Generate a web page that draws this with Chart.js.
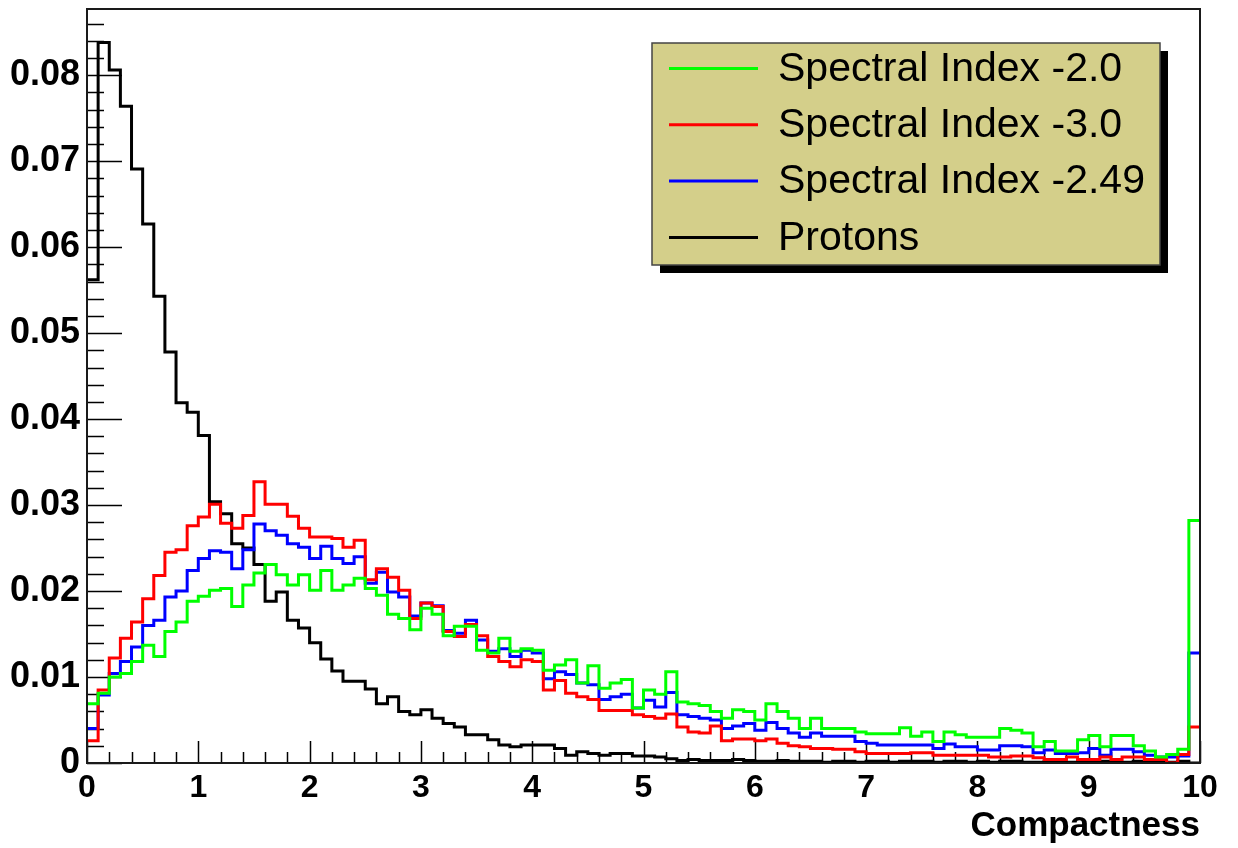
<!DOCTYPE html>
<html>
<head>
<meta charset="utf-8">
<title>Compactness</title>
<script src="https://cdn.jsdelivr.net/npm/chart.js@4.4.1/dist/chart.umd.min.js"></script>
<style>
    html, body { margin: 0; padding: 0; background: #fff; }
</style>
</head>
<body>
<canvas id="chart" width="1238" height="848"></canvas>
<script>
// 100 bins of width 0.1 between 0 and 10 (low edges)
const binLowEdges = Array.from({ length: 100 }, (_, i) => i / 10);
const binUpperEnd = 10;

const xTickValues = [0, 1, 2, 3, 4, 5, 6, 7, 8, 9, 10];
const yTickValues = [0, 0.01, 0.02, 0.03, 0.04, 0.05, 0.06, 0.07, 0.08];

const seriesLabels = ['Spectral Index -2.0', 'Spectral Index -3.0', 'Spectral Index -2.49', 'Protons'];

const index20 = [
    0.0069, 0.0081, 0.0100, 0.0104, 0.0118, 0.0137, 0.0124, 0.0153, 0.0164, 0.0188,
    0.0194, 0.0201, 0.0203, 0.0182, 0.0207, 0.0221, 0.0231, 0.0219, 0.0207, 0.0219,
    0.0201, 0.0224, 0.0201, 0.0207, 0.0215, 0.0203, 0.0195, 0.0173, 0.0168, 0.0155,
    0.0180, 0.0173, 0.0148, 0.0159, 0.0159, 0.0131, 0.0128, 0.0145, 0.0130, 0.0133,
    0.0131, 0.0108, 0.0114, 0.0120, 0.0093, 0.0113, 0.0087, 0.0093, 0.0097, 0.0064,
    0.0085, 0.0080, 0.0106, 0.0071, 0.0069, 0.0067, 0.0060, 0.0052, 0.0062, 0.0060,
    0.0050, 0.0069, 0.0060, 0.0052, 0.0040, 0.0052, 0.0040, 0.0040, 0.0040, 0.0036,
    0.0034, 0.0034, 0.0034, 0.0041, 0.0031, 0.0036, 0.0025, 0.0036, 0.0033, 0.0030,
    0.0030, 0.0030, 0.0040, 0.0038, 0.0035, 0.0019, 0.0025, 0.0014, 0.0014, 0.0027,
    0.0032, 0.0019, 0.0032, 0.0032, 0.0020, 0.0014, 0.0007, 0.0010, 0.0016, 0.0282
];

const index30 = [
    0.0026, 0.0085, 0.0122, 0.0145, 0.0164, 0.0191, 0.0218, 0.0245, 0.0248, 0.0276,
    0.0286, 0.0301, 0.0279, 0.0273, 0.0288, 0.0327, 0.0301, 0.0301, 0.0287, 0.0273,
    0.0263, 0.0263, 0.0261, 0.0251, 0.0259, 0.0213, 0.0226, 0.0216, 0.0201, 0.0168,
    0.0186, 0.0182, 0.0153, 0.0147, 0.0161, 0.0148, 0.0124, 0.0118, 0.0112, 0.0120,
    0.0118, 0.0085, 0.0096, 0.0081, 0.0077, 0.0074, 0.0061, 0.0061, 0.0061, 0.0056,
    0.0054, 0.0052, 0.0057, 0.0042, 0.0036, 0.0035, 0.0043, 0.0026, 0.0028, 0.0028,
    0.0026, 0.0028, 0.0023, 0.0020, 0.0019, 0.0017, 0.0017, 0.0016, 0.0016, 0.0013,
    0.0011, 0.0011, 0.0011, 0.0011, 0.0012, 0.0012, 0.0009, 0.0009, 0.0009, 0.0009,
    0.0009, 0.0007, 0.0007, 0.0008, 0.0008, 0.0006, 0.0004, 0.0004, 0.0007, 0.0004,
    0.0004, 0.0007, 0.0004, 0.0007, 0.0007, 0.0004, 0.0004, 0.0000, 0.0010, 0.0042
];

const index249 = [
    0.0040, 0.0079, 0.0104, 0.0118, 0.0135, 0.0160, 0.0166, 0.0193, 0.0200, 0.0224,
    0.0238, 0.0247, 0.0245, 0.0226, 0.0248, 0.0278, 0.0270, 0.0265, 0.0255, 0.0251,
    0.0238, 0.0252, 0.0238, 0.0232, 0.0240, 0.0209, 0.0222, 0.0199, 0.0193, 0.0171,
    0.0186, 0.0183, 0.0154, 0.0151, 0.0166, 0.0143, 0.0130, 0.0133, 0.0124, 0.0131,
    0.0128, 0.0098, 0.0106, 0.0103, 0.0093, 0.0091, 0.0074, 0.0077, 0.0080, 0.0064,
    0.0073, 0.0065, 0.0082, 0.0056, 0.0054, 0.0052, 0.0050, 0.0040, 0.0043, 0.0046,
    0.0038, 0.0047, 0.0040, 0.0035, 0.0030, 0.0035, 0.0031, 0.0031, 0.0031, 0.0025,
    0.0023, 0.0021, 0.0021, 0.0021, 0.0021, 0.0021, 0.0017, 0.0022, 0.0019, 0.0019,
    0.0015, 0.0015, 0.0020, 0.0020, 0.0019, 0.0012, 0.0015, 0.0011, 0.0011, 0.0012,
    0.0017, 0.0009, 0.0016, 0.0016, 0.0013, 0.0009, 0.0007, 0.0007, 0.0008, 0.0128
];

const protons = [
    0.0562, 0.0838, 0.0806, 0.0764, 0.0691, 0.0627, 0.0543, 0.0478, 0.0419, 0.0408,
    0.0381, 0.0304, 0.0290, 0.0255, 0.0250, 0.0231, 0.0188, 0.0199, 0.0166, 0.0157,
    0.0140, 0.0121, 0.0107, 0.0095, 0.0095, 0.0086, 0.0069, 0.0077, 0.0060, 0.0056,
    0.0062, 0.0052, 0.0046, 0.0042, 0.0033, 0.0033, 0.0027, 0.0021, 0.0019, 0.0021,
    0.0021, 0.0021, 0.0017, 0.0009, 0.0013, 0.0011, 0.0009, 0.0011, 0.0011, 0.0008,
    0.0008, 0.0007, 0.0005, 0.0003, 0.0004, 0.0003, 0.0003, 0.0003, 0.0004, 0.0003,
    0.0002, 0.0002, 0.0003, 0.0002, 0.0002, 0.0002, 0.0001, 0.0002, 0.0002, 0.0001,
    0.0002, 0.0002, 0.0001, 0.0002, 0.0002, 0.0002, 0.0001, 0.0002, 0.0002, 0.0001,
    0.0002, 0.0001, 0.0002, 0.0002, 0.0001, 0.0001, 0.0002, 0.0001, 0.0001, 0.0002,
    0.0001, 0.0002, 0.0001, 0.0001, 0.0002, 0.0001, 0.0001, 0.0001, 0.0002, 0.0000
];

const FONT = '"Liberation Sans", Arial, Helvetica, sans-serif';

// step histogram: one point per low edge, plus the closing point at the upper end
const toSteps = (values) => {
    const pts = binLowEdges.map((x, i) => ({ x: x, y: values[i] }));
    pts.push({ x: binUpperEnd, y: values[values.length - 1] });
    return pts;
};

const histDataset = (label, values, color) => ({
    label: label,
    data: toSteps(values),
    borderColor: color,
    backgroundColor: color,
    borderWidth: 3,
    // horizontal first, then vertical: each value covers [edge, next edge]
    stepped: 'before',
    pointRadius: 0,
    fill: false,
});

// ROOT style frame with inward ticks
const rootFrame = {
    id: 'rootFrame',
    beforeDatasetsDraw(chart) {
        const { ctx, chartArea: a, scales: { x, y } } = chart;
        ctx.save();
        ctx.strokeStyle = '#000';
        ctx.lineWidth = 1.5;
        ctx.beginPath();
        for (let i = 0; i <= 50; i++) {
            const px = Math.round(x.getPixelForValue(i / 5)) + 0.5;
            const len = i % 5 === 0 ? 22 : 11;
            ctx.moveTo(px, a.bottom);
            ctx.lineTo(px, a.bottom - len);
        }
        for (let i = 0; i * 0.002 <= y.max; i++) {
            const py = Math.round(y.getPixelForValue(i * 0.002)) + 0.5;
            const len = i % 5 === 0 ? 35 : 17;
            ctx.moveTo(a.left, py);
            ctx.lineTo(a.left + len, py);
        }
        ctx.stroke();
        ctx.restore();
    },
    afterDatasetsDraw(chart) {
        const { ctx, chartArea: a } = chart;
        ctx.save();
        ctx.strokeStyle = '#1a1a1a';
        ctx.lineWidth = 2;
        ctx.strokeRect(a.left, a.top, a.right - a.left, a.bottom - a.top);
        ctx.restore();
    }
};

// legend box with drop shadow
const rootLegend = {
    id: 'rootLegend',
    afterDraw(chart) {
        const { ctx } = chart;
        const bx = 652, by = 43, bw = 508, bh = 222;
        ctx.save();
        ctx.fillStyle = '#000';
        ctx.fillRect(bx + 8, by + 8, bw, bh);
        ctx.fillStyle = '#d4cf8a';
        ctx.fillRect(bx, by, bw, bh);
        ctx.strokeStyle = '#444';
        ctx.lineWidth = 1.5;
        ctx.strokeRect(bx, by, bw, bh);
        ctx.font = '41px ' + FONT;
        ctx.textBaseline = 'middle';
        ctx.textAlign = 'left';
        chart.data.datasets.forEach((ds, i) => {
            const cy = by + 25.5 + i * 56.3;
            ctx.strokeStyle = ds.borderColor;
            ctx.lineWidth = 3;
            ctx.beginPath();
            ctx.moveTo(669, cy);
            ctx.lineTo(758, cy);
            ctx.stroke();
            ctx.fillStyle = '#000';
            ctx.fillText(ds.label, 778, cy + 1);
        });
        ctx.restore();
    }
};

const ctx = document.getElementById('chart').getContext('2d');

new Chart(ctx, {
    type: 'line',
    data: {
        datasets: [
            histDataset(seriesLabels[0], index20, '#00ff00'),
            histDataset(seriesLabels[1], index30, '#ff0000'),
            histDataset(seriesLabels[2], index249, '#0000ff'),
            histDataset(seriesLabels[3], protons, '#000000'),
        ]
    },
    options: {
        responsive: false,
        animation: false,
        devicePixelRatio: 1,
        layout: {
            padding: { top: 9, right: 38, left: 0, bottom: 0 }
        },
        plugins: {
            legend: { display: false },
            tooltip: { enabled: false },
        },
        scales: {
            x: {
                type: 'linear',
                min: 0,
                max: 10,
                afterBuildTicks: (scale) => {
                    scale.ticks = xTickValues.map(v => ({ value: v }));
                },
                afterFit: (scale) => {
                    scale.height = 85;
                    scale.paddingLeft = 0;
                    scale.paddingRight = 0;
                },
                ticks: {
                    color: '#000',
                    padding: 6,
                    maxRotation: 0,
                    font: { family: FONT, size: 32, weight: 'bold' },
                    callback: (value) => String(value),
                },
                grid: { display: false, drawTicks: false },
                border: { display: false },
                title: {
                    display: true,
                    text: 'Compactness',
                    align: 'end',
                    color: '#000',
                    font: { family: FONT, size: 35, weight: 'bold' },
                    padding: { top: 0, bottom: 1 },
                },
            },
            y: {
                type: 'linear',
                min: 0,
                max: 0.0877,
                afterBuildTicks: (scale) => {
                    scale.ticks = yTickValues.map(v => ({ value: v }));
                },
                afterFit: (scale) => {
                    scale.width = 87;
                    scale.paddingTop = 0;
                    scale.paddingBottom = 0;
                },
                ticks: {
                    color: '#000',
                    padding: 7,
                    font: { family: FONT, size: 36, weight: 'bold' },
                    callback: (value) => value === 0 ? '0' : value.toFixed(2),
                },
                grid: { display: false, drawTicks: false },
                border: { display: false },
            },
        },
    },
    plugins: [rootFrame, rootLegend],
});
</script>
</body>
</html>
